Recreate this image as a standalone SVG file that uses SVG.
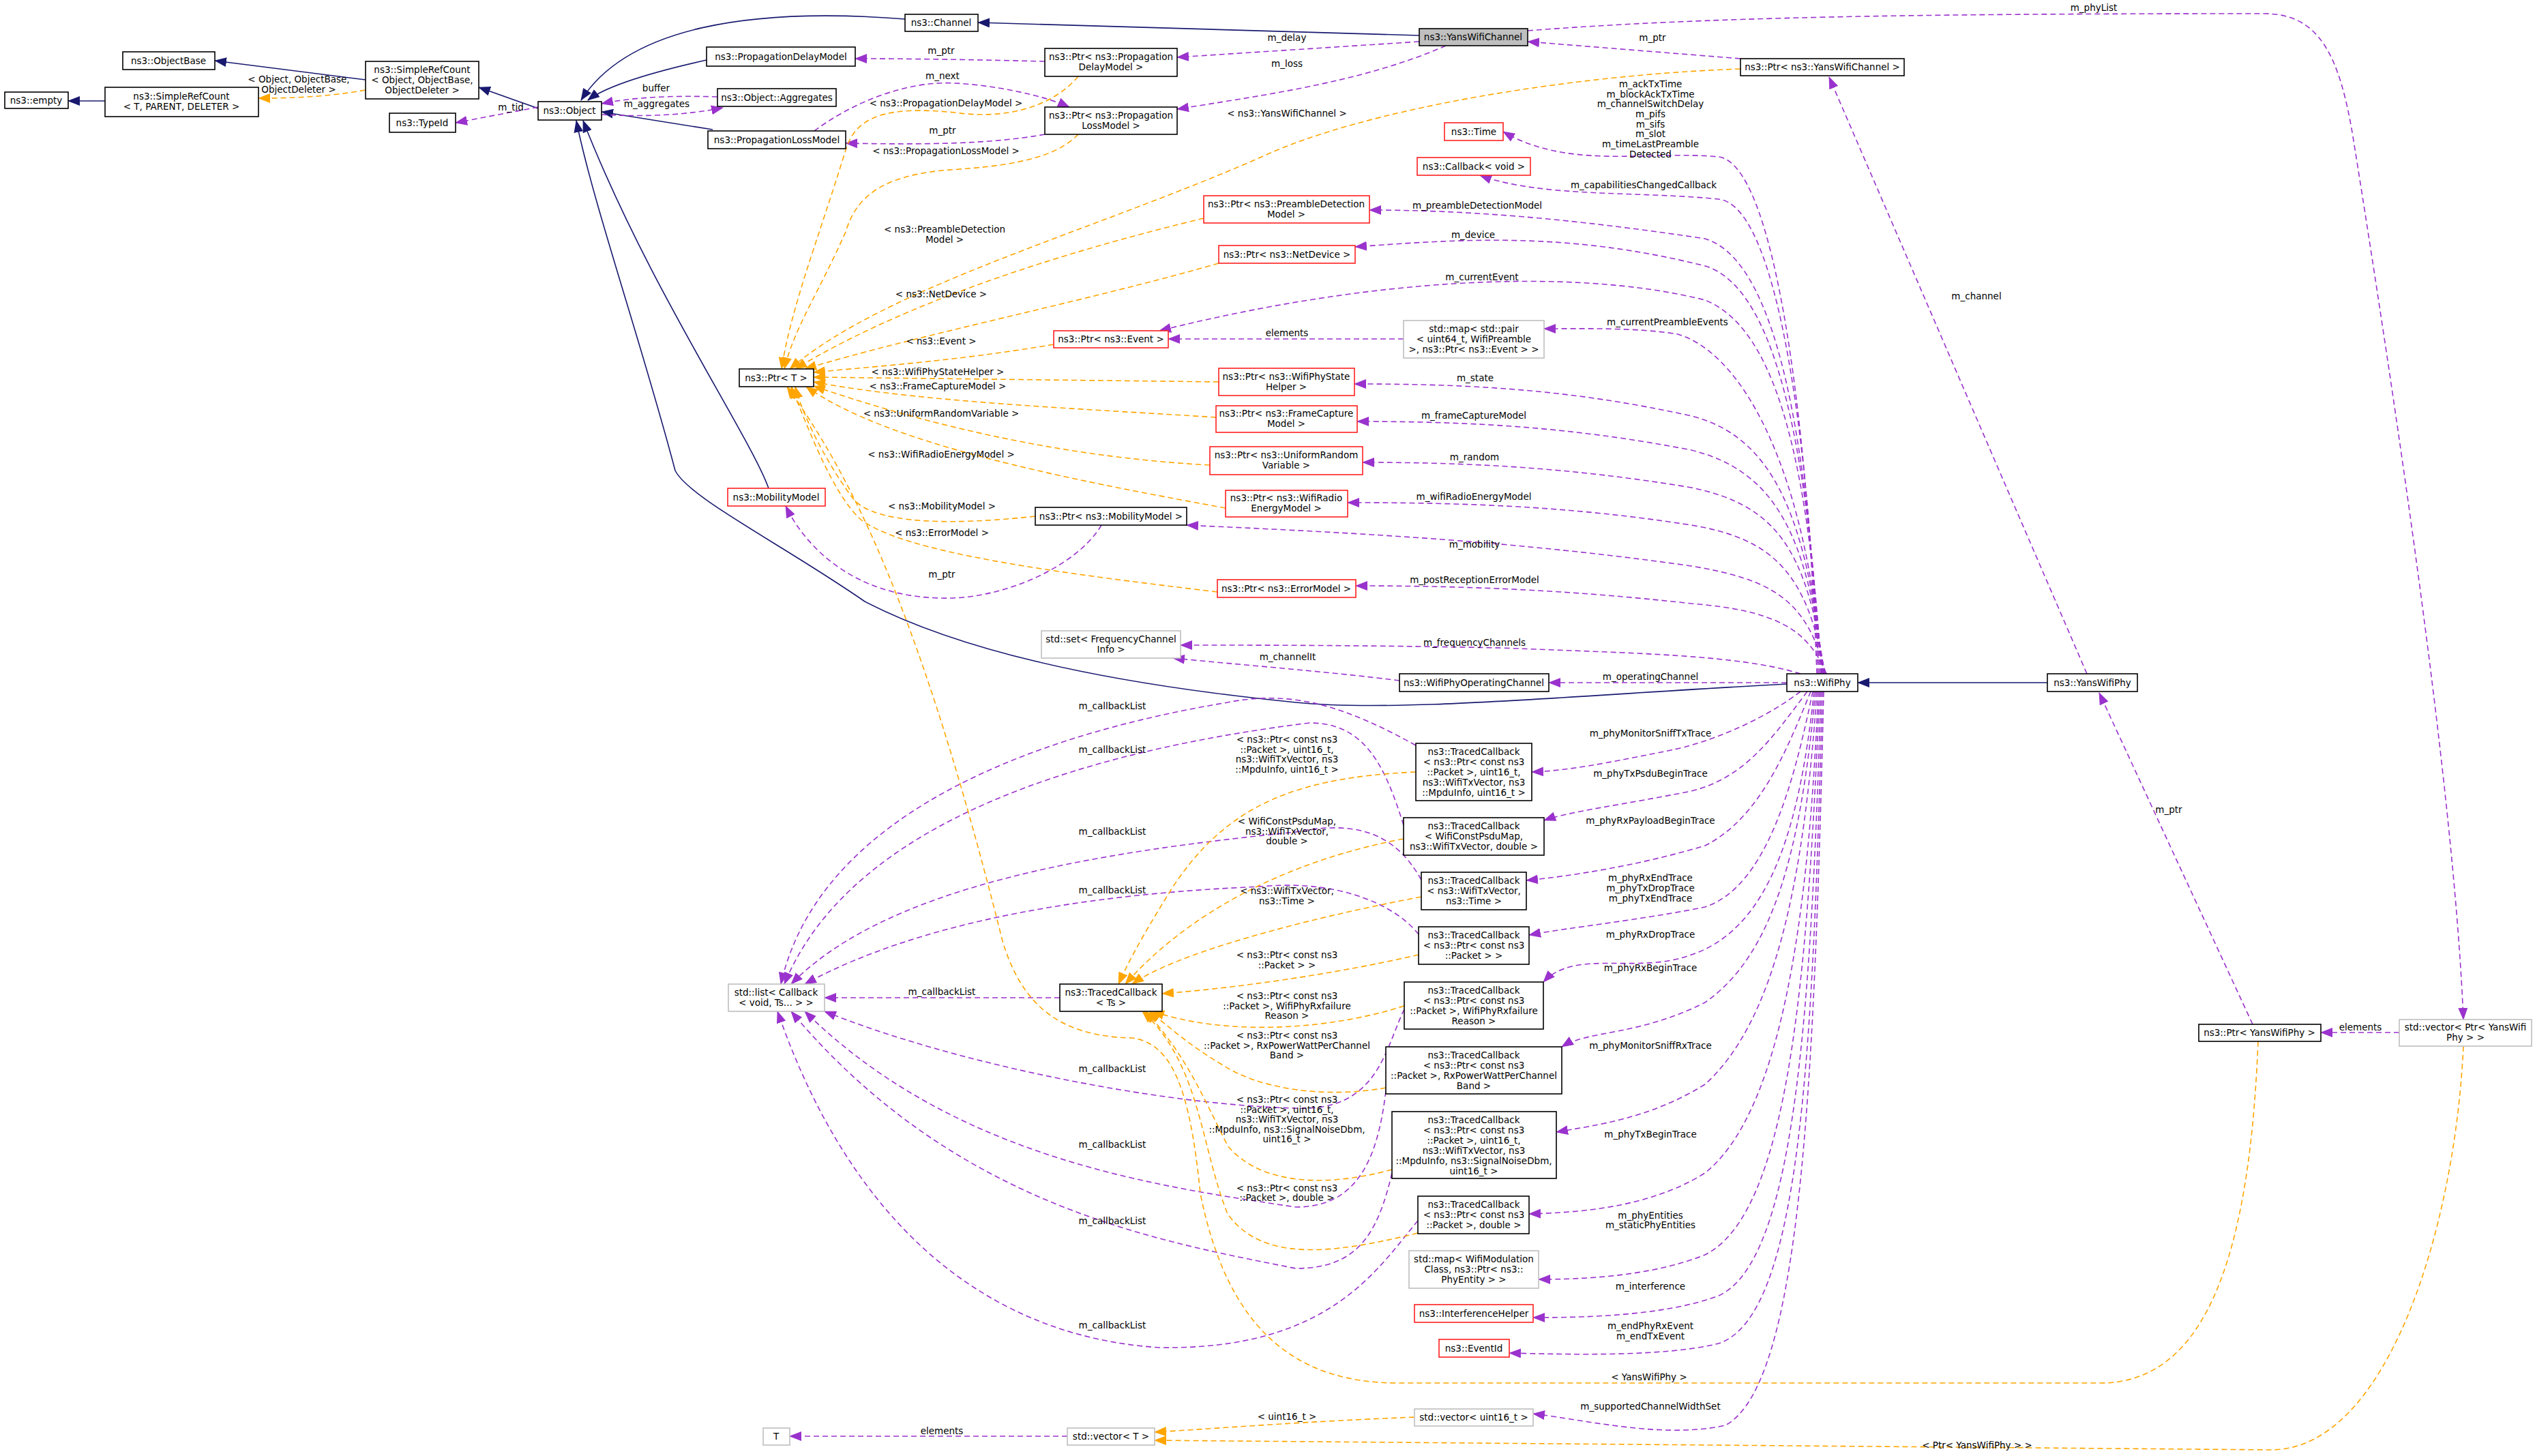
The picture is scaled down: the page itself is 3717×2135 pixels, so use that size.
<svg xmlns="http://www.w3.org/2000/svg" width="3717" height="2135" viewBox="0 0 3717 2135">
<style>
text{font-family:"DejaVu Sans","Liberation Sans",sans-serif;font-size:13.5px;fill:#000}
.n rect{fill:#fff;stroke:#000;stroke-width:1.6}
.r rect{fill:#fff;stroke:#ff2020;stroke-width:1.6}
.g rect{fill:#fff;stroke:#bfbfbf;stroke-width:1.6}
.c rect{fill:#bfbfbf;stroke:#000;stroke-width:1.6}
.t{text-anchor:middle}
.i{fill:none;stroke:#191970;stroke-width:1.6}
.p{fill:none;stroke:#9a32cd;stroke-width:1.6;stroke-dasharray:8,5}
.o{fill:none;stroke:#ffa500;stroke-width:1.6;stroke-dasharray:8,5}
</style>
<defs>
<marker id="ai" markerUnits="userSpaceOnUse" markerWidth="18" markerHeight="14" refX="17" refY="7" orient="auto"><path d="M0,0L18,7L0,14z" fill="#191970"/></marker>
<marker id="ap" markerUnits="userSpaceOnUse" markerWidth="18" markerHeight="14" refX="17" refY="7" orient="auto"><path d="M0,0L18,7L0,14z" fill="#9a32cd"/></marker>
<marker id="ao" markerUnits="userSpaceOnUse" markerWidth="18" markerHeight="14" refX="17" refY="7" orient="auto"><path d="M0,0L18,7L0,14z" fill="#ffa500"/></marker>
</defs>
<rect width="3717" height="2135" fill="#fff"/>
<g id="edges">
<!-- inheritance -->
<path class="i" marker-end="url(#ai)" d="M154,148L100,148"/>
<path class="i" marker-end="url(#ai)" d="M536,117L315,89"/>
<path class="i" marker-end="url(#ai)" d="M792,160L702,128"/>
<path class="i" marker-end="url(#ai)" d="M1036,88C960,105 890,125 862,147"/>
<path class="i" marker-end="url(#ai)" d="M1045,190L882,164"/>
<path class="i" marker-end="url(#ai)" d="M1327,28C1100,10 920,40 852,147"/>
<path class="i" marker-end="url(#ai)" d="M2081,52L1434,33"/>
<path class="i" marker-end="url(#ai)" d="M1127,716C1100,640 950,420 855,177"/>
<path class="i" marker-end="url(#ai)" d="M2620,1003C2300,1020 2050,1045 1900,1030C1600,1000 1400,950 1268,882C1150,800 1010,730 990,690C940,500 870,300 845,177"/>
<path class="i" marker-end="url(#ai)" d="M3002,1001L2724,1001"/>
<!-- purple members -->
<path class="p" marker-end="url(#ap)" d="M789,157L668,180"/>
<path class="p" marker-end="url(#ap)" d="M1052,142C990,140 930,142 882,152"/>
<path class="p" marker-end="url(#ap)" d="M882,168C950,172 1010,168 1060,158"/>
<path class="p" marker-end="url(#ap)" d="M1532,90C1450,88 1350,86 1254,86"/>
<path class="p" marker-end="url(#ap)" d="M1532,197C1450,212 1350,212 1240,210"/>
<path class="p" marker-end="url(#ap)" d="M1194,192C1250,150 1330,118 1400,122C1460,125 1530,140 1568,157"/>
<path class="p" marker-end="url(#ap)" d="M2081,61L1726,84"/>
<path class="p" marker-end="url(#ap)" d="M2120,67C2000,120 1850,140 1726,160"/>
<path class="p" marker-end="url(#ap)" d="M2552,86L2240,61"/>
<path class="p" marker-end="url(#ap)" d="M2240,45C2500,25 2800,20 3320,20C3400,20 3430,80 3450,200C3530,700 3600,1200 3612,1495"/>
<path class="p" marker-end="url(#ap)" d="M3060,988L2682,113"/>
<path class="p" marker-end="url(#ap)" d="M3303,1502L3078,1016"/>
<path class="p" marker-end="url(#ap)" d="M3518,1514L3403,1514"/>
<path class="p" marker-end="url(#ap)" d="M2052,998C1950,985 1820,975 1720,965"/>
<path class="p" marker-end="url(#ap)" d="M2058,497L1713,497"/>
<path class="p" marker-end="url(#ap)" d="M1615,770C1580,830 1470,880 1380,877C1250,875 1180,800 1152,742"/>
<path class="p" marker-end="url(#ap)" d="M1554,1463L1209,1463"/>
<path class="p" marker-end="url(#ap)" d="M1565,2106L1158,2106"/>
<!-- WifiPhy members above -->
<path class="p" marker-end="url(#ap)" d="M2664,988C2650,600 2600,240 2520,230C2420,220 2300,250 2204,193"/>
<path class="p" marker-end="url(#ap)" d="M2666,988C2650,600 2600,300 2520,292C2400,280 2260,290 2170,257"/>
<path class="p" marker-end="url(#ap)" d="M2668,988C2650,620 2600,380 2500,350C2300,320 2150,308 2008,308"/>
<path class="p" marker-end="url(#ap)" d="M2670,988C2650,640 2600,420 2500,390C2300,340 2150,350 1987,362"/>
<path class="p" marker-end="url(#ap)" d="M2671,988C2650,660 2600,480 2500,440C2300,390 2000,410 1700,485"/>
<path class="p" marker-end="url(#ap)" d="M2672,988C2650,700 2560,520 2460,490C2400,480 2320,482 2264,482"/>
<path class="p" marker-end="url(#ap)" d="M2673,988C2650,760 2600,640 2480,610C2300,570 2150,563 1986,563"/>
<path class="p" marker-end="url(#ap)" d="M2674,988C2650,780 2600,690 2480,660C2300,625 2150,618 1990,618"/>
<path class="p" marker-end="url(#ap)" d="M2675,988C2650,800 2600,740 2480,715C2300,685 2150,678 1998,678"/>
<path class="p" marker-end="url(#ap)" d="M2676,988C2650,840 2600,790 2480,770C2300,742 2150,737 1976,737"/>
<path class="p" marker-end="url(#ap)" d="M2677,988C2650,880 2600,850 2480,830C2200,790 1950,780 1740,770"/>
<path class="p" marker-end="url(#ap)" d="M2678,988C2650,920 2600,895 2480,885C2300,865 2150,859 1988,859"/>
<path class="p" marker-end="url(#ap)" d="M2640,988C2550,960 2400,958 2200,950C2000,946 1850,946 1731,946"/>
<path class="p" marker-end="url(#ap)" d="M2620,1001L2271,1001"/>
<!-- WifiPhy members below -->
<path class="p" marker-end="url(#ap)" d="M2640,1014C2580,1060 2500,1090 2450,1100C2350,1120 2300,1130 2246,1132"/>
<path class="p" marker-end="url(#ap)" d="M2650,1014C2600,1080 2560,1140 2480,1160C2380,1180 2300,1190 2264,1203"/>
<path class="p" marker-end="url(#ap)" d="M2655,1014C2620,1100 2580,1200 2500,1240C2400,1270 2300,1285 2238,1291"/>
<path class="p" marker-end="url(#ap)" d="M2658,1014C2630,1150 2590,1300 2500,1330C2400,1350 2300,1360 2242,1371"/>
<path class="p" marker-end="url(#ap)" d="M2660,1014C2640,1200 2600,1360 2480,1400C2400,1430 2310,1390 2263,1440"/>
<path class="p" marker-end="url(#ap)" d="M2662,1014C2640,1250 2600,1400 2500,1470C2400,1520 2330,1510 2290,1535"/>
<path class="p" marker-end="url(#ap)" d="M2664,1014C2645,1300 2600,1500 2500,1590C2420,1640 2340,1650 2282,1660"/>
<path class="p" marker-end="url(#ap)" d="M2666,1014C2650,1400 2600,1640 2500,1720C2420,1770 2320,1778 2242,1780"/>
<path class="p" marker-end="url(#ap)" d="M2668,1014C2650,1450 2620,1780 2500,1840C2420,1872 2320,1876 2256,1876"/>
<path class="p" marker-end="url(#ap)" d="M2670,1014C2655,1500 2630,1850 2520,1900C2440,1930 2320,1932 2248,1932"/>
<path class="p" marker-end="url(#ap)" d="M2672,1014C2658,1550 2640,1930 2520,1970C2440,1990 2300,1986 2213,1984"/>
<path class="p" marker-end="url(#ap)" d="M2674,1014C2660,1600 2640,2030 2530,2090C2440,2110 2330,2083 2248,2073"/>
<!-- m_callbackList -->
<path class="p" marker-end="url(#ap)" d="M2076,1093C1980,1040 1900,1010 1800,1030C1500,1080 1200,1200 1145,1443"/>
<path class="p" marker-end="url(#ap)" d="M2058,1210C2030,1120 2000,1060 1920,1060C1600,1100 1250,1200 1150,1443"/>
<path class="p" marker-end="url(#ap)" d="M2084,1290C2050,1230 2000,1200 1900,1220C1600,1250 1300,1300 1160,1443"/>
<path class="p" marker-end="url(#ap)" d="M2080,1370C2040,1320 1950,1290 1850,1300C1600,1310 1350,1350 1180,1443"/>
<path class="p" marker-end="url(#ap)" d="M2059,1480C2030,1540 2020,1630 1900,1625C1700,1620 1400,1560 1209,1483"/>
<path class="p" marker-end="url(#ap)" d="M2032,1600C2020,1700 1990,1770 1900,1770C1700,1740 1400,1700 1180,1483"/>
<path class="p" marker-end="url(#ap)" d="M2041,1720C2020,1810 1990,1860 1900,1860C1700,1820 1400,1770 1160,1483"/>
<path class="p" marker-end="url(#ap)" d="M2079,1790C2020,1860 1950,1980 1700,1976C1450,1960 1250,1800 1140,1483"/>
<!-- orange templates -->
<path class="o" marker-end="url(#ao)" d="M536,132C480,142 430,144 379,144"/>
<path class="o" marker-end="url(#ao)" d="M1581,112C1540,160 1470,175 1400,165C1300,155 1255,170 1240,220C1200,350 1160,450 1146,541"/>
<path class="o" marker-end="url(#ao)" d="M1581,197C1540,240 1450,245 1380,250C1290,260 1255,290 1240,340C1200,430 1165,480 1150,541"/>
<path class="o" marker-end="url(#ao)" d="M2552,101C2300,110 2000,160 1850,230C1600,340 1300,420 1158,541"/>
<path class="o" marker-end="url(#ao)" d="M1765,320C1600,360 1350,430 1166,541"/>
<path class="o" marker-end="url(#ao)" d="M1787,386C1600,440 1350,490 1180,541"/>
<path class="o" marker-end="url(#ao)" d="M1545,505C1400,530 1250,540 1193,546"/>
<path class="o" marker-end="url(#ao)" d="M1787,560L1193,553"/>
<path class="o" marker-end="url(#ao)" d="M1783,612C1600,600 1350,590 1193,560"/>
<path class="o" marker-end="url(#ao)" d="M1774,682C1550,670 1350,620 1193,566"/>
<path class="o" marker-end="url(#ao)" d="M1797,745C1550,700 1300,650 1182,567"/>
<path class="o" marker-end="url(#ao)" d="M1518,757C1400,770 1280,770 1250,730C1220,690 1180,620 1166,567"/>
<path class="o" marker-end="url(#ao)" d="M1785,868C1550,840 1320,810 1260,760C1220,720 1190,640 1160,567"/>
<path class="o" marker-end="url(#ao)" d="M3311,1527C3300,1800 3250,2028 3080,2028L2050,2028C1900,2028 1800,1950 1760,1750C1745,1600 1720,1530 1660,1522C1560,1520 1500,1480 1470,1380C1350,900 1250,700 1154,567"/>
<path class="o" marker-end="url(#ao)" d="M3612,1534C3600,1800 3500,2126 3330,2126L1693,2112"/>
<path class="o" marker-end="url(#ao)" d="M2074,2078C1900,2085 1780,2095 1693,2100"/>
<path class="o" marker-end="url(#ao)" d="M2076,1132C1900,1140 1800,1180 1720,1300C1670,1380 1650,1420 1640,1443"/>
<path class="o" marker-end="url(#ao)" d="M2058,1230C1900,1260 1750,1330 1650,1443"/>
<path class="o" marker-end="url(#ao)" d="M2084,1315C1900,1350 1720,1400 1660,1443"/>
<path class="o" marker-end="url(#ao)" d="M2080,1400C1950,1430 1800,1450 1704,1457"/>
<path class="o" marker-end="url(#ao)" d="M2059,1475C1950,1510 1800,1520 1690,1483"/>
<path class="o" marker-end="url(#ao)" d="M2032,1595C1950,1610 1850,1600 1790,1560C1740,1530 1720,1510 1685,1483"/>
<path class="o" marker-end="url(#ao)" d="M2041,1715C1950,1740 1850,1740 1800,1680C1760,1600 1740,1550 1680,1483"/>
<path class="o" marker-end="url(#ao)" d="M2079,1808C1950,1840 1850,1850 1800,1780C1760,1680 1760,1560 1675,1483"/>
</g>
<g id="labels">
<text x="438" y="121" class="t">&lt; Object, ObjectBase,</text><text x="438" y="136" class="t">ObjectDeleter &gt;</text>
<text x="749" y="162" class="t">m_tid</text>
<text x="962" y="134" class="t">buffer</text>
<text x="963" y="157" class="t">m_aggregates</text>
<text x="1380" y="79" class="t">m_ptr</text>
<text x="1382" y="196" class="t">m_ptr</text>
<text x="1382" y="116" class="t">m_next</text>
<text x="1887" y="60" class="t">m_delay</text>
<text x="1887" y="98" class="t">m_loss</text>
<text x="2423" y="60" class="t">m_ptr</text>
<text x="3070" y="16" class="t">m_phyList</text>
<text x="2898" y="439" class="t">m_channel</text>
<text x="3180" y="1192" class="t">m_ptr</text>
<text x="3461" y="1511" class="t">elements</text>
<text x="1888" y="968" class="t">m_channelIt</text>
<text x="1887" y="493" class="t">elements</text>
<text x="1381" y="847" class="t">m_ptr</text>
<text x="1381" y="1459" class="t">m_callbackList</text>
<text x="1381" y="2103" class="t">elements</text>
<text x="2420" y="128" class="t">m_ackTxTime</text><text x="2420" y="143" class="t">m_blockAckTxTime</text><text x="2420" y="157" class="t">m_channelSwitchDelay</text><text x="2420" y="172" class="t">m_pifs</text><text x="2420" y="187" class="t">m_sifs</text><text x="2420" y="201" class="t">m_slot</text><text x="2420" y="216" class="t">m_timeLastPreamble</text><text x="2420" y="231" class="t">Detected</text>
<text x="2410" y="276" class="t">m_capabilitiesChangedCallback</text>
<text x="2166" y="306" class="t">m_preambleDetectionModel</text>
<text x="2160" y="349" class="t">m_device</text>
<text x="2173" y="411" class="t">m_currentEvent</text>
<text x="2445" y="477" class="t">m_currentPreambleEvents</text>
<text x="2163" y="559" class="t">m_state</text>
<text x="2161" y="614" class="t">m_frameCaptureModel</text>
<text x="2162" y="675" class="t">m_random</text>
<text x="2161" y="733" class="t">m_wifiRadioEnergyModel</text>
<text x="2162" y="803" class="t">m_mobility</text>
<text x="2162" y="855" class="t">m_postReceptionErrorModel</text>
<text x="2162" y="947" class="t">m_frequencyChannels</text>
<text x="2420" y="997" class="t">m_operatingChannel</text>
<text x="2420" y="1080" class="t">m_phyMonitorSniffTxTrace</text>
<text x="2420" y="1139" class="t">m_phyTxPsduBeginTrace</text>
<text x="2420" y="1208" class="t">m_phyRxPayloadBeginTrace</text>
<text x="2420" y="1292" class="t">m_phyRxEndTrace</text><text x="2420" y="1307" class="t">m_phyTxDropTrace</text><text x="2420" y="1322" class="t">m_phyTxEndTrace</text>
<text x="2420" y="1375" class="t">m_phyRxDropTrace</text>
<text x="2420" y="1424" class="t">m_phyRxBeginTrace</text>
<text x="2420" y="1538" class="t">m_phyMonitorSniffRxTrace</text>
<text x="2420" y="1668" class="t">m_phyTxBeginTrace</text>
<text x="2420" y="1787" class="t">m_phyEntities</text><text x="2420" y="1801" class="t">m_staticPhyEntities</text>
<text x="2420" y="1891" class="t">m_interference</text>
<text x="2420" y="1949" class="t">m_endPhyRxEvent</text><text x="2420" y="1964" class="t">m_endTxEvent</text>
<text x="2420" y="2067" class="t">m_supportedChannelWidthSet</text>
<text x="1631" y="1040" class="t">m_callbackList</text>
<text x="1631" y="1104" class="t">m_callbackList</text>
<text x="1631" y="1224" class="t">m_callbackList</text>
<text x="1631" y="1310" class="t">m_callbackList</text>
<text x="1631" y="1572" class="t">m_callbackList</text>
<text x="1631" y="1683" class="t">m_callbackList</text>
<text x="1631" y="1795" class="t">m_callbackList</text>
<text x="1631" y="1948" class="t">m_callbackList</text>
<text x="1887" y="1089" class="t">&lt; ns3::Ptr&lt; const ns3</text><text x="1887" y="1104" class="t">::Packet &gt;, uint16_t,</text><text x="1887" y="1118" class="t">ns3::WifiTxVector, ns3</text><text x="1887" y="1133" class="t">::MpduInfo, uint16_t &gt;</text>
<text x="1887" y="1209" class="t">&lt; WifiConstPsduMap,</text><text x="1887" y="1224" class="t">ns3::WifiTxVector,</text><text x="1887" y="1238" class="t">double &gt;</text>
<text x="1887" y="1311" class="t">&lt; ns3::WifiTxVector,</text><text x="1887" y="1326" class="t">ns3::Time &gt;</text>
<text x="1887" y="1405" class="t">&lt; ns3::Ptr&lt; const ns3</text><text x="1887" y="1420" class="t">::Packet &gt; &gt;</text>
<text x="1887" y="1465" class="t">&lt; ns3::Ptr&lt; const ns3</text><text x="1887" y="1480" class="t">::Packet &gt;, WifiPhyRxfailure</text><text x="1887" y="1494" class="t">Reason &gt;</text>
<text x="1887" y="1523" class="t">&lt; ns3::Ptr&lt; const ns3</text><text x="1887" y="1538" class="t">::Packet &gt;, RxPowerWattPerChannel</text><text x="1887" y="1552" class="t">Band &gt;</text>
<text x="1887" y="1617" class="t">&lt; ns3::Ptr&lt; const ns3</text><text x="1887" y="1632" class="t">::Packet &gt;, uint16_t,</text><text x="1887" y="1646" class="t">ns3::WifiTxVector, ns3</text><text x="1887" y="1661" class="t">::MpduInfo, ns3::SignalNoiseDbm,</text><text x="1887" y="1675" class="t">uint16_t &gt;</text>
<text x="1887" y="1747" class="t">&lt; ns3::Ptr&lt; const ns3</text><text x="1887" y="1761" class="t">::Packet &gt;, double &gt;</text>
<text x="1387" y="156" class="t">&lt; ns3::PropagationDelayModel &gt;</text>
<text x="1387" y="226" class="t">&lt; ns3::PropagationLossModel &gt;</text>
<text x="1887" y="171" class="t">&lt; ns3::YansWifiChannel &gt;</text>
<text x="1385" y="341" class="t">&lt; ns3::PreambleDetection</text><text x="1385" y="356" class="t">Model &gt;</text>
<text x="1380" y="436" class="t">&lt; ns3::NetDevice &gt;</text>
<text x="1380" y="505" class="t">&lt; ns3::Event &gt;</text>
<text x="1375" y="550" class="t">&lt; ns3::WifiPhyStateHelper &gt;</text>
<text x="1375" y="571" class="t">&lt; ns3::FrameCaptureModel &gt;</text>
<text x="1380" y="611" class="t">&lt; ns3::UniformRandomVariable &gt;</text>
<text x="1380" y="671" class="t">&lt; ns3::WifiRadioEnergyModel &gt;</text>
<text x="1381" y="747" class="t">&lt; ns3::MobilityModel &gt;</text>
<text x="1381" y="786" class="t">&lt; ns3::ErrorModel &gt;</text>
<text x="2418" y="2024" class="t">&lt; YansWifiPhy &gt;</text>
<text x="2899" y="2124" class="t">&lt; Ptr&lt; YansWifiPhy &gt; &gt;</text>
<text x="1887" y="2082" class="t">&lt; uint16_t &gt;</text>
</g>
<g id="n_empty" class="n"><rect x="7" y="135" width="93" height="24"/><text x="53" y="152" class="t">ns3::empty</text></g>
<g id="n_srcT" class="n"><rect x="154" y="128" width="225" height="43"/><text x="266" y="146" class="t">ns3::SimpleRefCount</text><text x="266" y="161" class="t">&lt; T, PARENT, DELETER &gt;</text></g>
<g id="n_objbase" class="n"><rect x="180" y="76" width="135" height="26"/><text x="247" y="94" class="t">ns3::ObjectBase</text></g>
<g id="n_srcO" class="n"><rect x="536" y="90" width="166" height="55"/><text x="619" y="107" class="t">ns3::SimpleRefCount</text><text x="619" y="122" class="t">&lt; Object, ObjectBase,</text><text x="619" y="137" class="t">ObjectDeleter &gt;</text></g>
<g id="n_typeid" class="n"><rect x="571" y="166" width="97" height="28"/><text x="619" y="185" class="t">ns3::TypeId</text></g>
<g id="n_object" class="n"><rect x="789" y="149" width="93" height="27"/><text x="835" y="167" class="t">ns3::Object</text></g>
<g id="n_pdm" class="n"><rect x="1036" y="69" width="218" height="28"/><text x="1145" y="88" class="t">ns3::PropagationDelayModel</text></g>
<g id="n_agg" class="n"><rect x="1052" y="130" width="174" height="26"/><text x="1139" y="148" class="t">ns3::Object::Aggregates</text></g>
<g id="n_plm" class="n"><rect x="1038" y="192" width="202" height="26"/><text x="1139" y="210" class="t">ns3::PropagationLossModel</text></g>
<g id="n_channel" class="n"><rect x="1327" y="21" width="107" height="25"/><text x="1380" y="38" class="t">ns3::Channel</text></g>
<g id="n_ywc" class="c"><rect x="2081" y="42" width="159" height="25"/><text x="2160" y="59" class="t">ns3::YansWifiChannel</text></g>
<g id="n_ptrpdm" class="n"><rect x="1532" y="71" width="194" height="41"/><text x="1629" y="88" class="t">ns3::Ptr&lt; ns3::Propagation</text><text x="1629" y="103" class="t">DelayModel &gt;</text></g>
<g id="n_ptrplm" class="n"><rect x="1532" y="157" width="194" height="40"/><text x="1629" y="174" class="t">ns3::Ptr&lt; ns3::Propagation</text><text x="1629" y="189" class="t">LossModel &gt;</text></g>
<g id="n_ptrywc" class="n"><rect x="2552" y="86" width="240" height="25"/><text x="2672" y="103" class="t">ns3::Ptr&lt; ns3::YansWifiChannel &gt;</text></g>
<g id="n_time" class="r"><rect x="2118" y="180" width="86" height="26"/><text x="2161" y="198" class="t">ns3::Time</text></g>
<g id="n_cbv" class="r"><rect x="2078" y="231" width="166" height="26"/><text x="2161" y="249" class="t">ns3::Callback&lt; void &gt;</text></g>
<g id="n_ptrpre" class="r"><rect x="1765" y="287" width="243" height="40"/><text x="1886" y="304" class="t">ns3::Ptr&lt; ns3::PreambleDetection</text><text x="1886" y="319" class="t">Model &gt;</text></g>
<g id="n_ptrnd" class="r"><rect x="1787" y="360" width="200" height="26"/><text x="1887" y="378" class="t">ns3::Ptr&lt; ns3::NetDevice &gt;</text></g>
<g id="n_ptrev" class="r"><rect x="1545" y="485" width="168" height="25"/><text x="1629" y="502" class="t">ns3::Ptr&lt; ns3::Event &gt;</text></g>
<g id="n_mappair" class="g"><rect x="2058" y="470" width="206" height="55"/><text x="2161" y="487" class="t">std::map&lt; std::pair</text><text x="2161" y="502" class="t">&lt; uint64_t, WifiPreamble</text><text x="2161" y="517" class="t">&gt;, ns3::Ptr&lt; ns3::Event &gt; &gt;</text></g>
<g id="n_ptrstate" class="r"><rect x="1787" y="540" width="199" height="40"/><text x="1886" y="557" class="t">ns3::Ptr&lt; ns3::WifiPhyState</text><text x="1886" y="572" class="t">Helper &gt;</text></g>
<g id="n_ptrfc" class="r"><rect x="1783" y="595" width="207" height="39"/><text x="1886" y="611" class="t">ns3::Ptr&lt; ns3::FrameCapture</text><text x="1886" y="626" class="t">Model &gt;</text></g>
<g id="n_ptrur" class="r"><rect x="1774" y="655" width="224" height="41"/><text x="1886" y="672" class="t">ns3::Ptr&lt; ns3::UniformRandom</text><text x="1886" y="687" class="t">Variable &gt;</text></g>
<g id="n_ptrT" class="n"><rect x="1084" y="541" width="109" height="26"/><text x="1138" y="559" class="t">ns3::Ptr&lt; T &gt;</text></g>
<g id="n_mob" class="r"><rect x="1067" y="716" width="143" height="26"/><text x="1138" y="734" class="t">ns3::MobilityModel</text></g>
<g id="n_ptrre" class="r"><rect x="1797" y="719" width="179" height="39"/><text x="1886" y="735" class="t">ns3::Ptr&lt; ns3::WifiRadio</text><text x="1886" y="750" class="t">EnergyModel &gt;</text></g>
<g id="n_ptrmob" class="n"><rect x="1518" y="744" width="222" height="26"/><text x="1629" y="762" class="t">ns3::Ptr&lt; ns3::MobilityModel &gt;</text></g>
<g id="n_ptrerr" class="r"><rect x="1785" y="850" width="203" height="26"/><text x="1886" y="868" class="t">ns3::Ptr&lt; ns3::ErrorModel &gt;</text></g>
<g id="n_setfc" class="g"><rect x="1527" y="925" width="204" height="40"/><text x="1629" y="942" class="t">std::set&lt; FrequencyChannel</text><text x="1629" y="957" class="t">Info &gt;</text></g>
<g id="n_opch" class="n"><rect x="2052" y="988" width="219" height="26"/><text x="2161" y="1006" class="t">ns3::WifiPhyOperatingChannel</text></g>
<g id="n_wifiphy" class="n"><rect x="2620" y="988" width="104" height="26"/><text x="2672" y="1006" class="t">ns3::WifiPhy</text></g>
<g id="n_yansphy" class="n"><rect x="3002" y="988" width="132" height="26"/><text x="3068" y="1006" class="t">ns3::YansWifiPhy</text></g>
<g id="n_ptryp" class="n"><rect x="3224" y="1502" width="179" height="25"/><text x="3313" y="1519" class="t">ns3::Ptr&lt; YansWifiPhy &gt;</text></g>
<g id="n_vecyp" class="g"><rect x="3518" y="1495" width="194" height="39"/><text x="3615" y="1511" class="t">std::vector&lt; Ptr&lt; YansWifi</text><text x="3615" y="1526" class="t">Phy &gt; &gt;</text></g>
<g id="n_tc1" class="n"><rect x="2076" y="1090" width="170" height="84"/><text x="2161" y="1107" class="t">ns3::TracedCallback</text><text x="2161" y="1122" class="t">&lt; ns3::Ptr&lt; const ns3</text><text x="2161" y="1137" class="t">::Packet &gt;, uint16_t,</text><text x="2161" y="1152" class="t">ns3::WifiTxVector, ns3</text><text x="2161" y="1167" class="t">::MpduInfo, uint16_t &gt;</text></g>
<g id="n_tc2" class="n"><rect x="2058" y="1199" width="206" height="55"/><text x="2161" y="1216" class="t">ns3::TracedCallback</text><text x="2161" y="1231" class="t">&lt; WifiConstPsduMap,</text><text x="2161" y="1246" class="t">ns3::WifiTxVector, double &gt;</text></g>
<g id="n_tc3" class="n"><rect x="2084" y="1279" width="154" height="55"/><text x="2161" y="1296" class="t">ns3::TracedCallback</text><text x="2161" y="1311" class="t">&lt; ns3::WifiTxVector,</text><text x="2161" y="1326" class="t">ns3::Time &gt;</text></g>
<g id="n_tc4" class="n"><rect x="2080" y="1359" width="162" height="55"/><text x="2161" y="1376" class="t">ns3::TracedCallback</text><text x="2161" y="1391" class="t">&lt; ns3::Ptr&lt; const ns3</text><text x="2161" y="1406" class="t">::Packet &gt; &gt;</text></g>
<g id="n_list" class="g"><rect x="1068" y="1443" width="141" height="40"/><text x="1138" y="1460" class="t">std::list&lt; Callback</text><text x="1138" y="1475" class="t">&lt; void, Ts... &gt; &gt;</text></g>
<g id="n_tcts" class="n"><rect x="1554" y="1443" width="150" height="40"/><text x="1629" y="1460" class="t">ns3::TracedCallback</text><text x="1629" y="1475" class="t">&lt; Ts &gt;</text></g>
<g id="n_tc5" class="n"><rect x="2059" y="1440" width="204" height="69"/><text x="2161" y="1457" class="t">ns3::TracedCallback</text><text x="2161" y="1472" class="t">&lt; ns3::Ptr&lt; const ns3</text><text x="2161" y="1487" class="t">::Packet &gt;, WifiPhyRxfailure</text><text x="2161" y="1502" class="t">Reason &gt;</text></g>
<g id="n_tc6" class="n"><rect x="2032" y="1535" width="258" height="69"/><text x="2161" y="1552" class="t">ns3::TracedCallback</text><text x="2161" y="1567" class="t">&lt; ns3::Ptr&lt; const ns3</text><text x="2161" y="1582" class="t">::Packet &gt;, RxPowerWattPerChannel</text><text x="2161" y="1597" class="t">Band &gt;</text></g>
<g id="n_tc7" class="n"><rect x="2041" y="1630" width="241" height="98"/><text x="2161" y="1647" class="t">ns3::TracedCallback</text><text x="2161" y="1662" class="t">&lt; ns3::Ptr&lt; const ns3</text><text x="2161" y="1677" class="t">::Packet &gt;, uint16_t,</text><text x="2161" y="1692" class="t">ns3::WifiTxVector, ns3</text><text x="2161" y="1707" class="t">::MpduInfo, ns3::SignalNoiseDbm,</text><text x="2161" y="1722" class="t">uint16_t &gt;</text></g>
<g id="n_tc8" class="n"><rect x="2079" y="1754" width="163" height="55"/><text x="2161" y="1771" class="t">ns3::TracedCallback</text><text x="2161" y="1786" class="t">&lt; ns3::Ptr&lt; const ns3</text><text x="2161" y="1801" class="t">::Packet &gt;, double &gt;</text></g>
<g id="n_mapmod" class="g"><rect x="2066" y="1834" width="190" height="55"/><text x="2161" y="1851" class="t">std::map&lt; WifiModulation</text><text x="2161" y="1866" class="t">Class, ns3::Ptr&lt; ns3::</text><text x="2161" y="1881" class="t">PhyEntity &gt; &gt;</text></g>
<g id="n_interf" class="r"><rect x="2074" y="1913" width="174" height="26"/><text x="2161" y="1931" class="t">ns3::InterferenceHelper</text></g>
<g id="n_eventid" class="r"><rect x="2110" y="1964" width="103" height="26"/><text x="2161" y="1982" class="t">ns3::EventId</text></g>
<g id="n_vecu16" class="g"><rect x="2074" y="2066" width="174" height="25"/><text x="2161" y="2083" class="t">std::vector&lt; uint16_t &gt;</text></g>
<g id="n_vecT" class="g"><rect x="1565" y="2094" width="128" height="25"/><text x="1629" y="2111" class="t">std::vector&lt; T &gt;</text></g>
<g id="n_T" class="g"><rect x="1119" y="2094" width="39" height="25"/><text x="1138" y="2111" class="t">T</text></g>
</svg>
